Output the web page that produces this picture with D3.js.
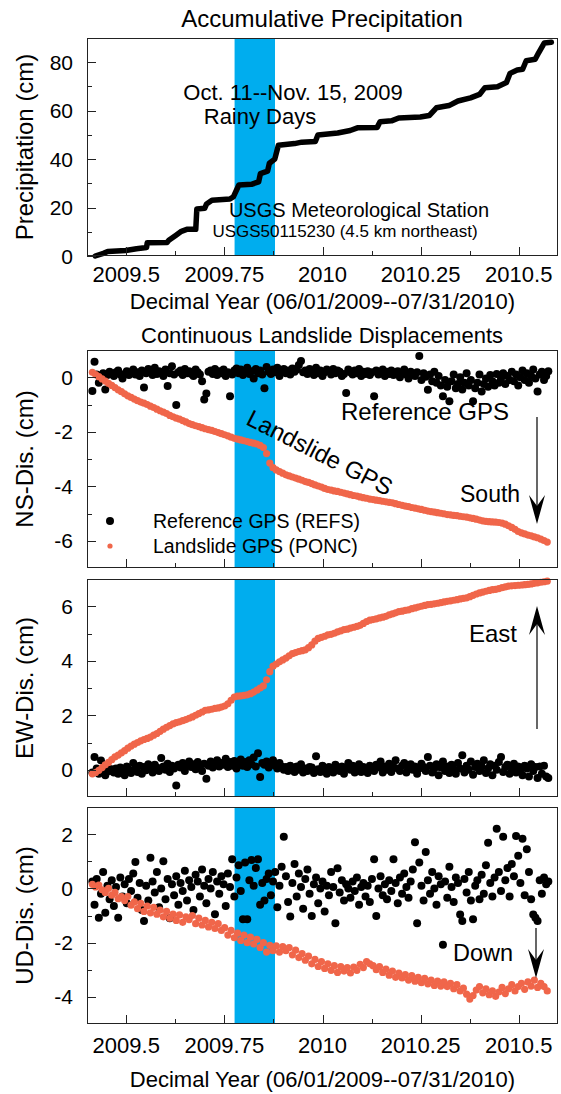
<!DOCTYPE html>
<html>
<head>
<meta charset="utf-8">
<script src="https://cdn.jsdelivr.net/npm/d3@7"></script>
<style>
  body { margin: 0; background: #fff; }
  text { font-family: "Liberation Sans", Arial, Helvetica, sans-serif; fill: #000; }
</style>
</head>
<body>
<svg id="chart" width="561" height="1094"></svg>
<script>
// ---------------- DATA ----------------
const xDomain = [2009.4, 2010.6];
const xMajorTicks = [2009.5, 2009.75, 2010, 2010.25, 2010.5];
const xTickLabels = ["2009.5", "2009.75", "2010", "2010.25", "2010.5"];
const xMinorTicks = [2009.625, 2009.875, 2010.125, 2010.375];
const rainBand = [2009.776, 2009.879];

const precipYear = [2009.4209,2009.4437,2009.4529,2009.4986,2009.5261,2009.5517,2009.5535,2009.6039,2009.6085,2009.6268,2009.6405,2009.6542,2009.6771,2009.6798,2009.7000,2009.7046,2009.7183,2009.7641,2009.7732,2009.7869,2009.8190,2009.8373,2009.8418,2009.8601,2009.8647,2009.8784,2009.8876,2009.9288,2009.9471,2009.9818,2009.9883,2010.0386,2010.0706,2010.0889,2010.1393,2010.1466,2010.1758,2010.1942,2010.2491,2010.2719,2010.2902,2010.3223,2010.3451,2010.3772,2010.4001,2010.4138,2010.4458,2010.4687,2010.4779,2010.4961,2010.5099,2010.5190,2010.5419,2010.5510,2010.5648,2010.5831];
const precipCm = [0,1.2,1.9,2.3,3.0,3.5,5.5,5.6,6.5,8.6,10.2,11.0,11.0,19.4,19.7,21.5,23.0,23.5,24.5,29.3,29.6,30.6,34.0,35.0,38.3,40.0,45.7,46.4,47.0,47.3,50.0,50.8,51.8,52.9,53.1,55.4,55.8,57.0,57.4,58.0,61.2,62.1,64.0,65.3,66.7,69.5,69.9,71.6,75.4,76.8,77.1,80.6,81.2,84.0,87.9,88.2];

// GPS daily solutions start 06/01/2009
const gpsStartYear = 2009.4137;
const refStepDays = 2;   // reference GPS (REFS) sampled every 2 days
const landStepDays = 3;  // landslide GPS (PONC) sampled every 3 days

const refNS = [-0.50,0.57,0.10,-0.20,0.05,0.15,-0.45,0.08,0.20,0.12,
0.05,0.18,0.25,0.10,-0.05,0.12,0.22,0.08,0.15,0.28,
0.10,0.18,0.05,0.25,-0.38,0.15,0.30,0.20,0.08,0.35,
0.12,0.22,0.18,0.05,0.28,-0.32,0.15,0.40,0.10,-1.02,
0.18,0.25,0.08,0.30,0.15,0.22,0.12,0.05,0.28,0.18,
0.10,-0.15,-0.82,-0.60,0.20,0.25,0.12,0.30,0.08,0.22,
0.15,0.28,0.05,0.18,-0.70,0.10,0.25,0.32,0.15,0.28,
0.08,0.20,0.35,0.12,0.22,-0.05,0.30,0.15,0.25,0.10,
-0.40,0.38,0.20,0.12,0.28,0.18,0.35,0.05,0.22,0.30,
0.15,0.25,0.10,0.32,0.20,0.28,0.45,0.60,0.18,0.25,
0.12,0.30,0.20,0.08,0.35,0.15,0.25,0.05,0.18,0.28,
0.22,0.10,0.30,0.15,0.25,0.20,0.05,0.12,-0.58,0.28,
0.18,0.10,0.25,0.15,0.30,0.05,0.20,0.12,0.22,0.08,
0.18,-0.70,0.25,0.10,0.15,0.28,0.05,0.20,0.12,0.25,
0.08,0.18,0.22,0.00,0.15,0.28,0.10,-0.05,0.20,0.12,
0.05,0.18,0.78,-0.10,0.15,0.02,-0.46,0.10,-0.15,0.20,
-0.20,0.05,-0.30,-0.70,-0.10,-0.35,-0.88,-0.15,0.10,-0.40,
-0.25,0.00,-0.45,-0.20,0.15,-0.30,-0.10,-0.88,-0.40,-0.20,
0.10,-0.52,-0.25,-0.05,-0.35,0.08,-0.15,-0.30,0.12,-0.20,
-0.05,0.15,-0.25,0.05,-0.10,0.20,-0.15,0.10,-0.30,0.00,
0.25,-0.10,0.15,-0.20,0.05,0.28,-0.05,-0.52,0.10,0.20,
-0.10,0.05,0.22];

const landNS = [0.18,0.10,0.02,-0.06,-0.14,-0.22,-0.30,-0.38,-0.46,-0.53,
-0.61,-0.68,-0.74,-0.80,-0.86,-0.91,-0.95,-1.00,-1.06,-1.11,
-1.17,-1.23,-1.28,-1.33,-1.40,-1.45,-1.50,-1.54,-1.59,-1.64,
-1.70,-1.74,-1.78,-1.81,-1.85,-1.89,-1.92,-1.95,-1.99,-2.03,
-2.07,-2.11,-2.15,-2.20,-2.24,-2.27,-2.30,-2.33,-2.36,-2.39,
-2.42,-2.45,-2.50,-2.58,-2.80,-3.15,-3.32,-3.40,-3.46,-3.52,
-3.58,-3.62,-3.66,-3.70,-3.74,-3.78,-3.83,-3.86,-3.90,-3.95,
-3.99,-4.03,-4.08,-4.12,-4.14,-4.17,-4.19,-4.22,-4.25,-4.28,
-4.31,-4.34,-4.36,-4.39,-4.42,-4.44,-4.47,-4.49,-4.51,-4.53,
-4.55,-4.57,-4.59,-4.61,-4.64,-4.67,-4.70,-4.73,-4.75,-4.78,
-4.80,-4.83,-4.85,-4.88,-4.91,-4.93,-4.95,-4.97,-4.99,-5.01,
-5.04,-5.05,-5.07,-5.08,-5.10,-5.12,-5.13,-5.16,-5.18,-5.21,
-5.24,-5.27,-5.29,-5.30,-5.31,-5.32,-5.33,-5.35,-5.39,-5.45,
-5.51,-5.58,-5.66,-5.71,-5.75,-5.79,-5.82,-5.86,-5.89,-5.94,
-5.99,-6.05];

const refEW = [-0.10,0.47,0.05,-0.15,0.34,0.00,-0.20,0.10,-0.05,0.02,
-0.10,0.05,-0.15,0.08,-0.05,-0.20,0.12,0.00,-0.12,0.25,
0.05,-0.08,0.15,-0.15,0.10,-0.02,0.20,0.05,-0.10,0.18,
0.08,-0.05,0.43,0.12,0.00,0.22,-0.08,0.15,0.05,-0.58,
0.18,0.08,0.25,-0.05,0.15,0.30,0.10,0.20,0.02,0.28,
0.12,-0.05,0.22,-0.33,0.15,0.30,0.08,0.20,0.35,0.12,
0.25,0.18,0.40,0.10,0.28,0.15,0.32,0.05,0.22,0.38,
0.15,0.28,0.10,0.35,0.20,0.45,0.12,0.61,-0.27,0.25,
0.18,0.30,0.08,0.22,0.35,0.15,0.05,0.25,0.12,0.00,
0.10,-0.05,0.15,0.05,-0.08,0.12,0.00,0.20,-0.10,0.05,
-0.05,0.10,0.08,-0.12,0.50,0.02,-0.08,0.15,0.05,-0.15,
0.10,0.00,-0.10,0.18,0.05,-0.05,0.12,-0.15,0.08,0.25,
0.00,0.15,-0.10,0.05,0.20,-0.08,0.10,0.02,-0.12,0.15,
0.05,-0.05,0.18,0.08,0.30,-0.10,0.12,0.00,0.22,-0.08,
0.10,0.35,0.05,-0.05,0.15,0.25,-0.10,0.08,0.20,0.00,
0.12,-0.15,0.05,0.22,0.10,-0.05,0.47,0.15,-0.10,0.05,
0.20,-0.20,0.08,0.30,-0.05,0.12,-0.12,0.18,0.02,-0.15,
0.25,0.05,0.53,-0.10,0.15,0.00,0.30,-0.18,0.10,0.22,
-0.05,0.12,0.35,-0.12,0.05,0.20,-0.20,0.15,0.00,0.28,
0.47,-0.08,0.10,0.18,-0.15,0.05,0.22,-0.10,0.12,0.00,
-0.20,0.15,0.05,-0.25,0.20,-0.05,0.10,-0.30,0.12,-0.15,
0.15,-0.25,-0.30];

const landEW = [-0.15,-0.10,-0.02,0.08,0.18,0.27,0.37,0.47,0.54,0.62,
0.70,0.79,0.87,0.94,1.00,1.06,1.11,1.15,1.20,1.27,
1.33,1.41,1.49,1.56,1.62,1.68,1.73,1.76,1.80,1.84,
1.89,1.94,2.00,2.06,2.12,2.18,2.20,2.22,2.25,2.27,
2.30,2.34,2.42,2.55,2.67,2.70,2.71,2.73,2.75,2.79,
2.85,2.92,3.00,3.08,3.30,3.60,3.80,3.88,3.96,4.03,
4.10,4.18,4.26,4.30,4.34,4.37,4.40,4.48,4.58,4.72,
4.82,4.86,4.90,4.95,4.97,5.01,5.06,5.10,5.14,5.16,
5.20,5.23,5.26,5.30,5.37,5.44,5.49,5.51,5.54,5.57,
5.60,5.63,5.68,5.72,5.76,5.80,5.82,5.85,5.87,5.91,
5.94,5.97,6.00,6.03,6.06,6.07,6.09,6.11,6.13,6.16,
6.18,6.20,6.22,6.24,6.27,6.29,6.31,6.35,6.40,6.45,
6.49,6.52,6.55,6.58,6.61,6.62,6.65,6.68,6.71,6.74,
6.75,6.76,6.77,6.78,6.79,6.80,6.82,6.84,6.86,6.88,
6.90,6.92];

const refUD = [0.25,-0.60,0.35,-1.08,-0.20,0.60,-0.90,0.10,-0.40,0.30,
-0.65,0.05,-1.08,0.40,-0.30,0.15,-0.55,0.35,-0.10,0.55,
0.97,-0.35,0.20,-0.80,-1.20,0.10,-0.45,1.13,0.25,-0.15,
0.60,-0.70,0.00,1.00,-0.40,0.35,-1.10,0.15,-0.25,0.45,
-0.60,0.20,-0.10,0.65,-0.45,0.30,0.05,-0.80,0.50,0.25,
-0.30,0.70,0.10,-0.55,0.35,0.00,0.60,-0.95,0.25,-0.20,
0.45,0.15,-0.65,0.55,0.05,1.07,-0.30,0.40,0.85,-0.10,
-1.14,0.95,-1.14,0.30,1.05,0.10,0.75,1.07,-0.60,0.20,
-0.45,0.35,0.55,-0.25,0.25,0.60,-0.70,0.10,0.80,1.90,
0.45,-0.50,-1.04,0.20,0.90,-0.30,0.55,0.05,-0.75,0.35,
0.70,-0.20,-1.02,0.15,0.40,-0.55,0.00,0.25,-0.85,0.10,
-0.25,0.60,0.05,-1.29,0.74,-0.15,0.30,-0.45,0.15,0.00,
-0.35,0.25,-0.10,0.40,-0.60,0.05,0.20,-0.30,0.10,-0.50,
0.35,1.07,-1.02,0.00,0.45,-0.25,0.15,-0.40,0.30,-0.10,
1.07,0.20,-0.55,0.40,-0.20,0.55,0.05,-0.35,0.25,0.70,
1.70,-1.29,0.95,0.10,-0.45,1.34,0.30,-0.20,0.60,0.00,
-0.60,0.45,0.15,-2.08,0.25,-0.35,0.80,0.05,-0.50,0.40,
0.20,-0.96,-1.20,0.35,-0.15,0.60,-0.45,-1.14,0.10,0.30,
-0.40,0.50,-0.20,0.85,1.68,0.20,-0.30,0.40,2.20,0.60,
-0.10,1.90,0.30,0.75,-0.30,0.90,0.45,1.93,1.20,0.20,
1.83,-0.25,1.44,0.60,-0.40,-0.96,-1.08,-1.20,0.30,-0.20,
0.40,0.15,0.25];

const landUD = [0.15,0.05,0.12,-0.05,-0.15,0.00,-0.25,-0.15,-0.38,-0.30,
-0.45,-0.30,-0.62,-0.50,-0.75,-0.55,-0.85,-0.65,-0.90,-0.70,
-0.95,-0.80,-1.05,-0.85,-1.10,-0.95,-1.18,-0.98,-1.25,-1.05,
-1.15,-1.00,-1.30,-1.10,-1.35,-1.18,-1.42,-1.25,-1.48,-1.30,
-1.55,-1.45,-1.72,-1.55,-1.82,-1.65,-1.92,-1.72,-2.00,-1.80,
-2.05,-1.88,-2.18,-2.00,-2.35,-2.10,-2.30,-2.12,-2.35,-2.15,
-2.30,-2.18,-2.45,-2.28,-2.55,-2.40,-2.65,-2.50,-2.78,-2.62,
-2.88,-2.70,-2.95,-2.78,-3.02,-2.85,-3.10,-2.88,-3.05,-2.92,
-3.12,-2.90,-3.02,-2.80,-2.92,-2.70,-2.78,-2.85,-3.00,-2.88,
-3.10,-2.98,-3.20,-3.05,-3.28,-3.12,-3.30,-3.18,-3.38,-3.22,
-3.42,-3.28,-3.48,-3.32,-3.52,-3.38,-3.58,-3.42,-3.60,-3.45,
-3.62,-3.50,-3.70,-3.55,-3.78,-3.68,-3.90,-4.08,-3.95,-3.75,
-3.62,-3.85,-3.70,-3.92,-3.78,-3.98,-3.82,-3.65,-3.88,-3.70,
-3.55,-3.78,-3.62,-3.50,-3.72,-3.45,-3.60,-3.38,-3.65,-3.50,
-3.62,-3.78];

const panels = [
  { name: "precip", yDomain: [0, 90], range: [256, 38], major: [0,20,40,60,80], minor: [10,30,50,70], yLabel: "Precipitation (cm)" },
  { name: "ns", yDomain: [-7, 1], range: [568, 350], major: [-6,-4,-2,0], minor: [-5,-3,-1], yLabel: "NS-Dis. (cm)", ref: refNS, land: landNS },
  { name: "ew", yDomain: [-1, 7], range: [797, 579], major: [0,2,4,6], minor: [1,3,5], yLabel: "EW-Dis. (cm)", ref: refEW, land: landEW },
  { name: "ud", yDomain: [-5, 3], range: [1024, 807], major: [-4,-2,0,2], minor: [-3,-1,1], yLabel: "UD-Dis. (cm)", ref: refUD, land: landUD }
];

// ---------------- DRAW ----------------
const svg = d3.select("#chart");
const ORANGE = "#f0664a";
const BLUE = "#00adee";
const x = d3.scaleLinear().domain(xDomain).range([87, 558]);
const [xL, xR] = x.range();
const gpsYear = (i, step) => gpsStartYear + i * step / 365;

panels.forEach((p, pi) => {
  const y = d3.scaleLinear().domain(p.yDomain).range(p.range);
  const yB = p.range[0], yT = p.range[1];
  const g = svg.append("g");

  // rainy-season band
  g.append("rect")
    .attr("x", x(rainBand[0])).attr("width", x(rainBand[1]) - x(rainBand[0]))
    .attr("y", yT).attr("height", yB - yT)
    .attr("fill", BLUE);

  if (p.name === "precip") {
    const line = d3.line().x((d, i) => x(precipYear[i])).y(d => y(d));
    g.append("path").datum(precipCm).attr("d", line)
      .attr("fill", "none").attr("stroke", "#000").attr("stroke-width", 5.5)
      .attr("stroke-linejoin", "round").attr("stroke-linecap", "round");
  } else {
    g.append("g").selectAll("circle").data(p.ref).join("circle")
      .attr("cx", (d, i) => x(gpsYear(i, refStepDays)))
      .attr("cy", d => y(d)).attr("r", 4).attr("fill", "#000");
    g.append("g").selectAll("circle").data(p.land).join("circle")
      .attr("cx", (d, i) => x(gpsYear(i, landStepDays)))
      .attr("cy", d => y(d)).attr("r", 3.6).attr("fill", ORANGE);
  }

  // frame
  g.append("rect").attr("x", xL + 0.5).attr("y", yT + 0.5)
    .attr("width", xR - xL - 1).attr("height", yB - yT - 1)
    .attr("fill", "none").attr("stroke", "#222").attr("stroke-width", 1);

  // inward ticks
  const tk = g.append("g").attr("stroke", "#222").attr("stroke-width", 1);
  xMajorTicks.forEach(v => tk.append("line").attr("x1", Math.round(x(v)) + 0.5).attr("x2", Math.round(x(v)) + 0.5).attr("y1", yB).attr("y2", yB - 9));
  xMinorTicks.forEach(v => tk.append("line").attr("x1", Math.round(x(v)) + 0.5).attr("x2", Math.round(x(v)) + 0.5).attr("y1", yB).attr("y2", yB - 5));
  p.major.forEach(v => tk.append("line").attr("x1", xL).attr("x2", xL + 9).attr("y1", Math.round(y(v)) + 0.5).attr("y2", Math.round(y(v)) + 0.5));
  p.minor.forEach(v => tk.append("line").attr("x1", xL).attr("x2", xL + 5).attr("y1", Math.round(y(v)) + 0.5).attr("y2", Math.round(y(v)) + 0.5));

  // y tick labels
  g.append("g").selectAll("text").data(p.major).join("text")
    .attr("x", 73).attr("y", d => y(d)).attr("dy", "0.36em")
    .attr("text-anchor", "end").attr("font-size", 21)
    .text(d => d < 0 ? "-" + Math.abs(d) : d);

  // y label
  g.append("text")
    .attr("transform", `translate(33,${(yT + yB) / 2}) rotate(-90)`)
    .attr("text-anchor", "middle").attr("font-size", 24).text(p.yLabel);

  // x tick labels (top and bottom panels)
  if (pi === 0 || pi === 3) {
    const base = pi === 0 ? 282 : 1053;
    g.append("g").selectAll("text").data(xMajorTicks).join("text")
      .attr("x", d => x(d)).attr("y", base).attr("text-anchor", "middle")
      .attr("font-size", 22).text((d, i) => xTickLabels[i]);
    g.append("text").attr("x", (xL + xR) / 2).attr("y", pi === 0 ? 309 : 1087)
      .attr("text-anchor", "middle").attr("font-size", 22)
      .text("Decimal Year (06/01/2009--07/31/2010)");
  }
});

// titles
svg.append("text").attr("x", 322).attr("y", 27).attr("text-anchor", "middle")
  .attr("font-size", 24).text("Accumulative Precipitation");
svg.append("text").attr("x", 322).attr("y", 343).attr("text-anchor", "middle")
  .attr("font-size", 22).text("Continuous Landslide Displacements");

// panel 1 annotations
svg.append("text").attr("x", 293).attr("y", 100).attr("text-anchor", "middle")
  .attr("font-size", 22).text("Oct. 11--Nov. 15, 2009");
svg.append("text").attr("x", 260).attr("y", 124).attr("text-anchor", "middle")
  .attr("font-size", 22).text("Rainy Days");
svg.append("text").attr("x", 359).attr("y", 217).attr("text-anchor", "middle")
  .attr("font-size", 20).text("USGS Meteorological Station");
svg.append("text").attr("x", 345).attr("y", 237).attr("text-anchor", "middle")
  .attr("font-size", 17).text("USGS50115230 (4.5 km northeast)");

// panel 2 annotations
svg.append("text").attr("x", 425).attr("y", 420).attr("text-anchor", "middle")
  .attr("font-size", 24).text("Reference GPS");
svg.append("text").attr("transform", "translate(316,460) rotate(27)")
  .attr("text-anchor", "middle").attr("font-size", 24).text("Landslide GPS");
svg.append("text").attr("x", 460).attr("y", 502).attr("font-size", 23).text("South");
// legend
svg.append("circle").attr("cx", 110).attr("cy", 521).attr("r", 4).attr("fill", "#000");
svg.append("text").attr("x", 153).attr("y", 528).attr("font-size", 19.5).text("Reference GPS (REFS)");
svg.append("circle").attr("cx", 110).attr("cy", 546).attr("r", 2.6).attr("fill", ORANGE);
svg.append("text").attr("x", 153).attr("y", 553).attr("font-size", 19.5).text("Landslide GPS (PONC)");

// panel 3 / 4 annotations
svg.append("text").attr("x", 469).attr("y", 642).attr("font-size", 24).text("East");
svg.append("text").attr("x", 453).attr("y", 961).attr("font-size", 23.5).text("Down");

// arrows
function arrow(ax, yStart, yTip) {
  const dir = yTip > yStart ? 1 : -1;
  svg.append("line").attr("x1", ax).attr("x2", ax).attr("y1", yStart).attr("y2", yTip - dir * 10)
    .attr("stroke", "#000").attr("stroke-width", 1.2);
  const p = d3.path();
  p.moveTo(ax, yTip);
  p.lineTo(ax - 8, yTip - dir * 29);
  p.lineTo(ax, yTip - dir * 18);
  p.lineTo(ax + 8, yTip - dir * 29);
  p.closePath();
  svg.append("path").attr("d", p.toString()).attr("fill", "#000");
}
arrow(537, 417, 524);
arrow(537, 729, 606);
arrow(536, 928, 978);
</script>
</body>
</html>
